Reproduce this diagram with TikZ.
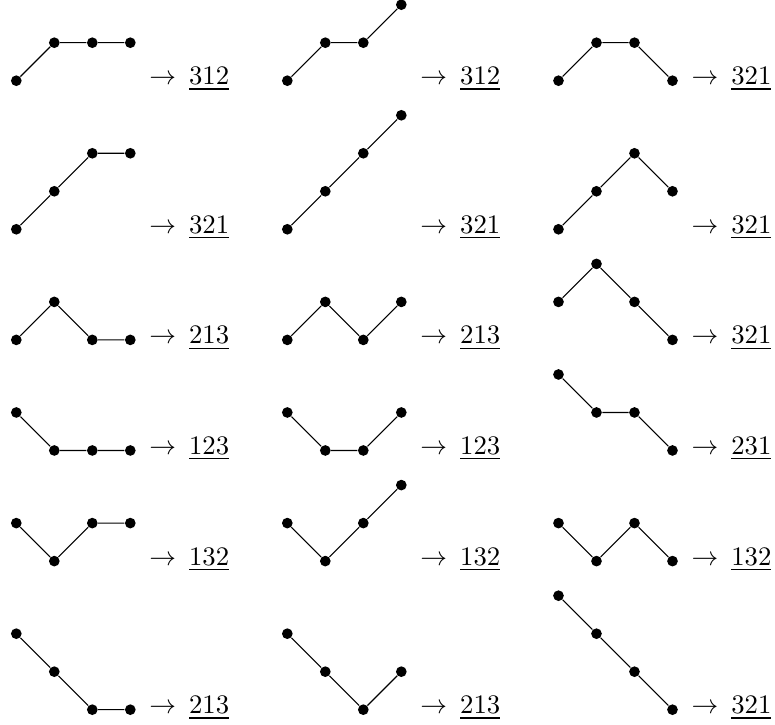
\documentclass[tikz,border=0pt]{standalone}
\tikzset{
  dot/.style={circle,fill=black,inner sep=0pt,minimum size=4pt},
  lbl/.style={anchor=base west,inner sep=0pt},
  seg/.style={line width=0.4pt}
}
\newcommand\mypath[8]{%
  \node[dot] (#1a) at (#2,#3+#4) {};
  \node[dot] (#1b) at (#2+1,#3+#5) {};
  \node[dot] (#1c) at (#2+2,#3+#6) {};
  \node[dot] (#1d) at (#2+3,#3+#7) {};
  \draw[seg] (#1a) -- (#1b) -- (#1c) -- (#1d);
  \node[lbl] (#1l) at (#2+3.487,#3-0.105) {$\to$\hspace{4.9pt}\underline{#8}};
}
\begin{document}
\begin{tikzpicture}[x=0.5cm,y=0.5cm]
\useasboundingbox (0,0) rectangle (20.395,19.079);
% row 1
\mypath{ra}{0.429}{16.955}{0}{1}{1}{1}{312}
\mypath{rb}{7.561}{16.955}{0}{1}{1}{2}{312}
\mypath{rc}{14.697}{16.955}{0}{1}{1}{0}{321}
% row 2
\mypath{sa}{0.429}{13.045}{0}{1}{2}{2}{321}
\mypath{sb}{7.561}{13.045}{0}{1}{2}{3}{321}
\mypath{sc}{14.697}{13.045}{0}{1}{2}{1}{321}
% row 3
\mypath{ta}{0.429}{10.134}{0}{1}{0}{0}{213}
\mypath{tb}{7.561}{10.134}{0}{1}{0}{1}{213}
\mypath{tc}{14.697}{10.134}{1}{2}{1}{0}{321}
% row 4
\mypath{ua}{0.429}{7.224}{1}{0}{0}{0}{123}
\mypath{ub}{7.561}{7.224}{1}{0}{0}{1}{123}
\mypath{uc}{14.697}{7.224}{2}{1}{1}{0}{231}
% row 5
\mypath{va}{0.429}{4.313}{1}{0}{1}{1}{132}
\mypath{vb}{7.561}{4.313}{1}{0}{1}{2}{132}
\mypath{vc}{14.697}{4.313}{1}{0}{1}{0}{132}
% row 6
\mypath{wa}{0.429}{0.403}{2}{1}{0}{0}{213}
\mypath{wb}{7.561}{0.403}{2}{1}{0}{1}{213}
\mypath{wc}{14.697}{0.403}{3}{2}{1}{0}{321}
\end{tikzpicture}
\end{document}
